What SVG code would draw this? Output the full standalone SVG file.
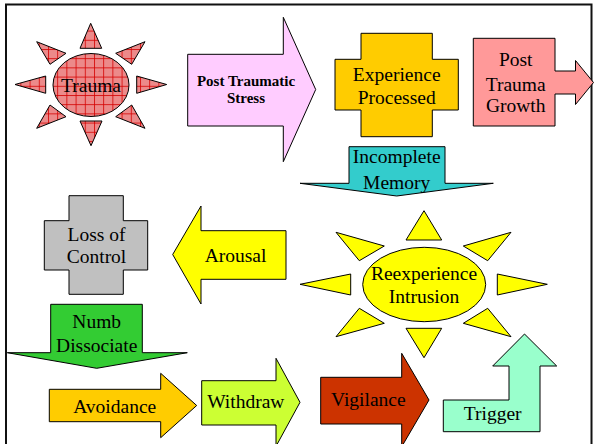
<svg xmlns="http://www.w3.org/2000/svg" width="595" height="444" viewBox="0 0 595 444">
<style>
.s{stroke:#000;stroke-width:1;stroke-linejoin:miter}
.t{font-family:"Liberation Serif","Times New Roman",serif;font-size:19.5px;fill:#000;text-anchor:middle}
.b{font-family:"Liberation Serif","Times New Roman",serif;font-size:15px;font-weight:bold;fill:#000;text-anchor:middle}
</style>
<defs>
<pattern id="grid" patternUnits="userSpaceOnUse" x="2" y="3" width="9.2" height="9.2">
<rect width="9.2" height="9.2" fill="#EC8A8A"/>
<path d="M0 0.5H9.2M0.5 0V9.2" stroke="#D40000" stroke-width="0.8"/>
</pattern>
</defs>
<rect width="595" height="444" fill="#fff"/>
<rect x="6" y="4.5" width="585.5" height="460" fill="none" stroke="#111" stroke-width="2"/>
<g id="connectors"/>
<g id="trauma">
<g class="s" fill="url(#grid)">
<polygon points="90.7,23.3 80,48.3 101.7,48.3"/>
<polygon points="91,145.7 80,121 102,121"/>
<polygon points="15,84.5 45.7,76 45.7,93.3"/>
<polygon points="166.7,84.5 136.7,76 136.7,93.3"/>
<polygon points="36.7,41.7 66,53.3 50,64.3"/>
<polygon points="145,41.7 115.7,53.3 131.7,64.3"/>
<polygon points="36.7,128.3 66,116.7 50,105"/>
<polygon points="145,128.3 115.7,116.7 131.7,105"/>
<ellipse cx="91" cy="85" rx="38" ry="31.5"/>
</g>
<text class="t" x="91" y="92">Trauma</text>
</g>
<g id="pts">
<polygon class="s" fill="#FFCCFF" points="187.7,54.3 283.3,54.3 283.3,17.3 315.7,89.5 283.3,161.7 283.3,126 187.7,126"/>
<text class="b" x="246" y="85.7">Post Traumatic</text>
<text class="b" x="246" y="103.3">Stress</text>
</g>
<g id="experience">
<polygon class="s" fill="#FFCC00" points="361,33.3 432.3,33.3 432.3,59.3 458.3,59.3 458.3,110 432.3,110 432.3,136.7 361,136.7 361,110 335,110 335,59.3 361,59.3"/>
<text class="t" x="396.7" y="80.7">Experience</text>
<text class="t" x="396.7" y="104">Processed</text>
</g>
<g id="growth">
<polygon class="s" fill="#FF9999" points="473.3,38.3 555,38.3 555,71 575.5,71 575.5,60.5 593.5,82.5 575.5,104.5 575.5,94 555,94 555,126 473.3,126"/>
<text class="t" x="515.7" y="65.7">Post</text>
<text class="t" x="515.7" y="90.7">Trauma</text>
<text class="t" x="515.7" y="112.3">Growth</text>
</g>
<g id="incomplete">
<polygon class="s" fill="#33CCCC" points="349,146.7 445,146.7 445,183.3 493.3,183.3 396.7,196 300,183.3 349,183.3"/>
<text class="t" x="396.7" y="163.3">Incomplete</text>
<text class="t" x="396.7" y="188.8">Memory</text>
</g>
<g id="loss">
<polygon class="s" fill="#C0C0C0" points="69,195.7 123.3,195.7 123.3,220.7 147.7,220.7 147.7,270 123.3,270 123.3,294.3 69,294.3 69,270 44.3,270 44.3,220.7 69,220.7"/>
<text class="t" x="96.5" y="241.3">Loss of</text>
<text class="t" x="96.5" y="263.3">Control</text>
</g>
<g id="arousal">
<polygon class="s" fill="#FFFF00" points="172.7,254.5 201,206 201,230.7 286,230.7 286,279.3 201,279.3 201,304"/>
<text class="t" x="235.5" y="261.7">Arousal</text>
</g>
<g id="numb">
<polygon class="s" fill="#33CC33" points="50.7,304.3 142.3,304.3 142.3,352.7 187.3,352.7 96.7,368.3 7.3,352.7 50.7,352.7"/>
<text class="t" x="96.7" y="328.3">Numb</text>
<text class="t" x="96.7" y="351.7">Dissociate</text>
</g>
<g id="reexperience">
<g class="s" fill="#FFFF00">
<polygon points="424,210.7 406,240 441.7,240"/>
<polygon points="424,357.7 406,328.3 441.7,328.3"/>
<polygon points="300,284.3 350.7,274 350.7,295"/>
<polygon points="547.3,284.3 497.3,274 497.3,295"/>
<polygon points="336,232.3 384.3,246 359.3,260.7"/>
<polygon points="511,232.3 463.3,246 487.7,260.7"/>
<polygon points="336,336.7 384.3,323.3 359.3,308.3"/>
<polygon points="511,336.7 463.3,323.3 487.7,308.3"/>
<ellipse cx="424.2" cy="284.5" rx="61.5" ry="37.2"/>
</g>
<text class="t" x="424" y="280">Reexperience</text>
<text class="t" x="424" y="302.7">Intrusion</text>
</g>
<g id="avoidance">
<polygon class="s" fill="#FFCC00" points="49.3,389.3 160.7,389.3 160.7,373.3 196.7,405.5 160.7,437.7 160.7,421.7 49.3,421.7"/>
<text class="t" x="114.7" y="412.7">Avoidance</text>
</g>
<g id="withdraw">
<polygon class="s" fill="#CCFF33" points="201.7,380.7 276,380.7 276,358.3 300,402.3 276,446.3 276,425 201.7,425"/>
<text class="t" x="245.8" y="408.3">Withdraw</text>
</g>
<g id="vigilance">
<polygon class="s" fill="#CC3300" points="320.7,377.3 401.7,377.3 401.7,353.3 429,400 401.7,446.7 401.7,424 320.7,424"/>
<text class="t" x="368.3" y="406">Vigilance</text>
</g>
<g id="trigger">
<polygon class="s" fill="#99FFCC" points="443.3,431.7 443.3,400 509,400 509,366 492.7,366 524.5,334 556.7,366 540,366 540,431.7"/>
<text class="t" x="492.7" y="420">Trigger</text>
</g>
</svg>
